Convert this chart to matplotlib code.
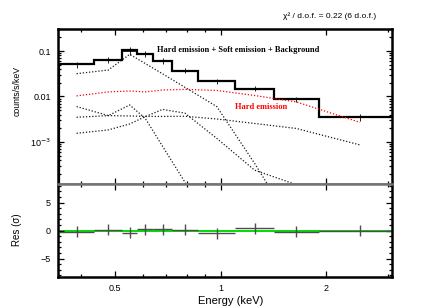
import numpy as np
import matplotlib
matplotlib.use("Agg")
import matplotlib.pyplot as plt
from matplotlib.ticker import FixedLocator, LogLocator, MultipleLocator, NullFormatter

plt.rcParams['font.family'] = ['Liberation Sans', 'DejaVu Sans']

# energy bins (keV)
edges = np.array([0.345, 0.4356, 0.524, 0.577, 0.643, 0.725, 0.863, 1.102, 1.419, 1.909, 3.28])

# total model and data (counts/s/keV)
model = [0.0511, 0.0625, 0.104, 0.0846, 0.0603, 0.0369, 0.0222, 0.0146, 0.00881, 0.00349]
data = [0.0505, 0.0630, 0.100, 0.0855, 0.0612, 0.0375, 0.0215, 0.0150, 0.0086, 0.0035]
data_err = [0.008, 0.009, 0.020, 0.013, 0.009, 0.005, 0.003, 0.002, 0.0012, 0.0006]
resid = [-0.18, 0.12, -0.4, 0.23, 0.23, 0.18, -0.5, 0.4, -0.2, 0.0]

# model components
hard = [0.0103, 0.0126, 0.0132, 0.0126, 0.0139, 0.0143, 0.0136, 0.0105, 0.0076, 0.0027]
soft_1 = [0.0317, 0.0382, 0.0845, 0.0531, 0.0315, 0.0159, 0.0060, 3.4e-4, 1.1e-5, 1e-7]
soft_2 = [0.0060, 0.0038, 0.0065, 0.0033, 8.0e-4, 1.3e-4, 1e-6, 1e-7, 1e-8, 1e-9]
soft_3 = [0.00155, 0.00184, 0.00249, 0.0036, 0.0052, 0.0043, 0.0012, 2.4e-4, 1.15e-4, 1e-5]
background = [0.00349, 0.00379, 0.00373, 0.00364, 0.00364, 0.00367, 0.0032, 0.00255, 0.00198, 8.6e-4]

centers = np.sqrt(edges[:-1] * edges[1:])
xerr = [centers - edges[:-1], edges[1:] - centers]

fig = plt.figure(figsize=(4.44, 3.07), dpi=100)
ax1 = fig.add_axes([0.1306, 0.4007, 0.7523, 0.5049])
ax2 = fig.add_axes([0.1306, 0.0977, 0.7523, 0.3029], sharex=ax1)

dots = (0, (1, 1.5))
ax1.stairs(model, edges, color='k', lw=1.6)
ax1.errorbar(centers, data, xerr=xerr, yerr=data_err, fmt='none', ecolor='k', elinewidth=0.6)
for comp in [soft_1, soft_2, soft_3, background]:
    ax1.plot(centers, comp, ls=dots, color='0.1', lw=0.9)
ax1.plot(centers, hard, ls=dots, color='red', lw=0.9)

ax2.axhline(0, color='#00dd00', lw=1.4, zorder=1)
ax2.errorbar(centers, resid, xerr=xerr, yerr=1, fmt='none', ecolor='0.3', elinewidth=1.0, zorder=2)

ax1.set_xscale('log')
ax1.set_yscale('log')
ax1.set_xlim(0.343, 3.09)
ax1.set_ylim(1.19e-4, 0.305)
ax2.set_ylim(-8.3, 8.3)

ax1.yaxis.set_major_locator(FixedLocator([1e-3, 1e-2, 0.1]))
ax1.set_yticklabels(['10$^{-3}$', '0.01', '0.1'])
ax1.yaxis.set_minor_locator(LogLocator(subs=range(2, 10)))
ax1.yaxis.set_minor_formatter(NullFormatter())

ax2.xaxis.set_major_locator(FixedLocator([0.5, 1, 2]))
ax2.set_xticklabels(['0.5', '1', '2'])
ax2.xaxis.set_minor_locator(LogLocator(subs=range(2, 10)))
ax2.xaxis.set_minor_formatter(NullFormatter())
ax2.yaxis.set_major_locator(FixedLocator([-5, 0, 5]))
ax2.set_yticklabels(['\u22125', '0', '5'])
ax2.yaxis.set_minor_locator(MultipleLocator(1))
plt.setp(ax1.get_xticklabels(), visible=False)

for ax in (ax1, ax2):
    ax.tick_params(which='both', direction='in', top=True, right=True, labelsize=6.5, pad=5, width=0.9)
    ax.tick_params(which='major', length=4.5)
    ax.tick_params(which='minor', length=2.3)
    for s in ax.spines.values():
        s.set_linewidth(1.8)
ax1.spines['bottom'].set_color('0.45')
ax2.spines['top'].set_color('0.45')

ax1.set_ylabel('counts/s/keV', fontsize=6.3)
ax1.yaxis.set_label_coords(-0.108, 0.6)
ax2.set_ylabel('Res (\u03c3)', fontsize=7)
ax2.yaxis.set_label_coords(-0.108, 0.51)
ax2.set_xlabel('Energy (keV)', fontsize=8)
ax2.xaxis.set_label_coords(0.518, -0.2)

fig.text(157 / 444, 1 - 50 / 307, 'Hard emission + Soft emission + Background',
         family='Liberation Serif', weight='bold', fontsize=6, va='center')
fig.text(235 / 444, 1 - 107 / 307, 'Hard emission', family='Liberation Serif',
         weight='bold', fontsize=6, va='center', color='red')
fig.text(376 / 444, 1 - 15.7 / 307, '\u03c7\u00b2 / d.o.f. = 0.22 (6 d.o.f.)',
         ha='right', va='center', fontsize=6)

fig.savefig('out.png', dpi=100)
